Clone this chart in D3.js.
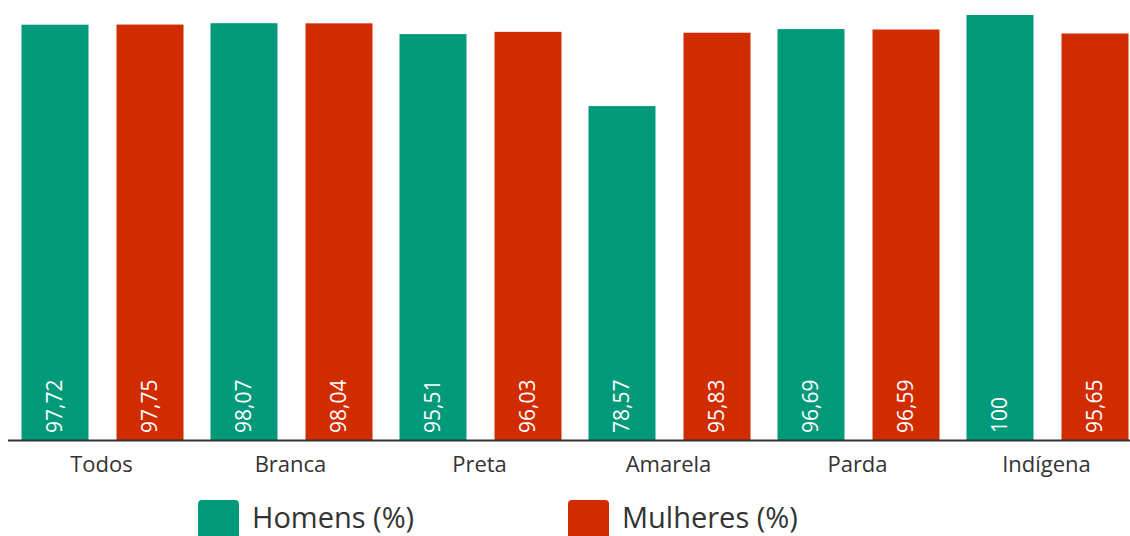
<!DOCTYPE html>
<html>
<head>
<meta charset="utf-8">
<script src="https://cdn.jsdelivr.net/npm/d3@7"></script>
<style>
  body { margin: 0; background: #fff; }
  svg { display: block; font-family: "Open Sans", "Noto Sans", sans-serif; }
</style>
</head>
<body>
<div id="chart"></div>
<script>
// data
var categories = ["Todos", "Branca", "Preta", "Amarela", "Parda", "Indígena"];
var series = ["Homens (%)", "Mulheres (%)"];
var homens = [97.72, 98.07, 95.51, 78.57, 96.69, 100];
var mulheres = [97.75, 98.04, 96.03, 95.83, 96.59, 95.65];
var colors = ["#00997a", "#d12b00"];

var width = 1130, height = 536;
var baseY = 440;

var rows = categories.map(function(c, i) {
    return { cat: c, values: [homens[i], mulheres[i]] };
});

var svg = d3.select("#chart")
    .append("svg")
    .attr("width", width)
    .attr("height", height);

var x0 = d3.scaleBand()
    .domain(categories)
    .range([8, 8 + 6 * 189])
    .padding(0);

var x1 = d3.scaleBand()
    .domain(series)
    .range([0, x0.bandwidth()])
    .paddingInner(0.295)
    .paddingOuter(0.142);

var y = d3.scaleLinear()
    .domain([0, 100])
    .range([baseY, 15]);

var fmt = function(v) { return String(v).replace(".", ","); };

var groups = svg.selectAll(".grp")
    .data(rows)
    .enter()
    .append("g")
    .attr("class", "grp")
    .attr("transform", function(d) { return "translate(" + x0(d.cat) + ",0)"; });

var bars = groups.selectAll(".bar")
    .data(function(d) {
        return d.values.map(function(v, i) { return { s: series[i], v: v, i: i }; });
    })
    .enter();

bars.append("rect")
    .attr("class", "bar")
    .attr("x", function(d) { return x1(d.s); })
    .attr("y", function(d) { return y(d.v); })
    .attr("width", x1.bandwidth())
    .attr("height", function(d) { return baseY - y(d.v); })
    .attr("fill", function(d) { return colors[d.i]; });

// value labels, rotated
bars.append("text")
    .attr("transform", function(d) {
        return "translate(" + (x1(d.s) + x1.bandwidth() / 2 - 1) + "," + (baseY - 7) + ") rotate(-90)";
    })
    .attr("dy", "0.36em")
    .attr("text-anchor", "start")
    .attr("fill", "#fff")
    .style("font-size", "21px")
    .text(function(d) { return fmt(d.v); });

// baseline
svg.append("line")
    .attr("x1", 8).attr("x2", width)
    .attr("y1", baseY + 0.5).attr("y2", baseY + 0.5)
    .attr("stroke", "#333")
    .attr("stroke-width", 2);

// category labels
svg.selectAll(".cat")
    .data(categories)
    .enter()
    .append("text")
    .attr("class", "cat")
    .attr("x", function(d) { return x0(d) + x0.bandwidth() / 2 - 1; })
    .attr("y", 472)
    .attr("text-anchor", "middle")
    .attr("fill", "#333")
    .style("font-size", "22px")
    .text(function(d) { return d; });

// legend
var legendX = [198, 568];
var legend = svg.selectAll(".leg")
    .data(series)
    .enter()
    .append("g")
    .attr("class", "leg")
    .attr("transform", function(d, i) { return "translate(" + legendX[i] + ",500)"; });

legend.append("rect")
    .attr("width", 41)
    .attr("height", 44)
    .attr("rx", 4)
    .attr("fill", function(d, i) { return colors[i]; });

legend.append("text")
    .attr("x", 54)
    .attr("y", 28)
    .attr("fill", "#333")
    .style("font-size", "29px")
    .text(function(d) { return d; });
</script>
</body>
</html>
